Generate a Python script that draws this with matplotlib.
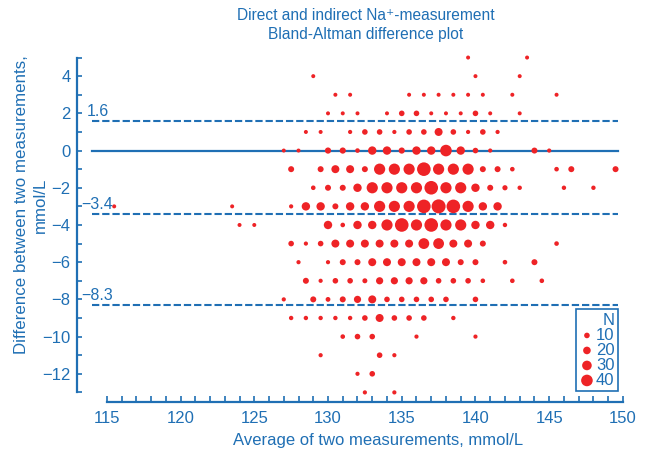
import numpy as np
import matplotlib.pyplot as plt

plt.rcParams['font.family'] = ['Liberation Sans', 'DejaVu Sans']

blue = '#1f6fb4'
red = '#ee2326'

# differences (mmol/L), one entry per row of bubbles
row_diffs = [5, 4, 3, 2, 1, 0, -1, -2, -3, -4, -5, -6, -7, -8, -9, -10, -11, -12, -13]

# averages of the two measurements in each row
row_avgs = [
    [139.5, 143.5],
    [129, 140, 143],
    [130.5, 131.5, 135.5, 136.5, 137.5, 138.5, 139.5, 140.5, 142.5, 145.5],
    [130, 131, 132, 134, 135, 136, 137, 138, 139, 140, 141, 143],
    [128.5, 129.5, 131.5, 132.5, 133.5, 134.5, 135.5, 136.5, 137.5, 138.5, 139.5, 140.5, 141.5],
    [127, 128, 130, 131, 132, 133, 134, 135, 136, 137, 138, 139, 140, 141, 144, 145],
    [127.5, 129.5, 130.5, 131.5, 132.5, 133.5, 134.5, 135.5, 136.5, 137.5, 138.5, 139.5,
     140.5, 141.5, 142.5, 145.5, 146.5, 149.5],
    [129, 130, 131, 132, 133, 134, 135, 136, 137, 138, 139, 140, 141, 142, 143, 146, 148],
    [115.5, 123.5, 127.5, 128.5, 129.5, 130.5, 131.5, 132.5, 133.5, 134.5, 135.5, 136.5,
     137.5, 138.5, 139.5, 140.5, 141.5],
    [124, 125, 130, 131, 132, 133, 134, 135, 136, 137, 138, 139, 140, 141, 142],
    [127.5, 128.5, 129.5, 130.5, 131.5, 132.5, 133.5, 134.5, 135.5, 136.5, 137.5, 138.5,
     139.5, 140.5, 145.5],
    [128, 130, 131, 132, 133, 134, 135, 136, 137, 138, 139, 140, 142, 144],
    [128.5, 129.5, 130.5, 131.5, 132.5, 133.5, 134.5, 135.5, 136.5, 137.5, 138.5, 139.5,
     140.5, 142.5, 144.5],
    [127, 129, 130, 131, 132, 133, 134, 135, 136, 137, 138, 140],
    [127.5, 128.5, 129.5, 130.5, 131.5, 132.5, 133.5, 134.5, 135.5, 136.5, 138.5],
    [131, 132, 133, 136, 140],
    [129.5, 133.5, 134.5],
    [132, 133],
    [132.5, 134.5],
]

# number of samples at each point
row_counts = [
    [2, 2],
    [2, 2, 2],
    [2, 2, 2, 2, 2, 2, 2, 2, 2, 2],
    [2, 2, 2, 2, 10, 10, 2, 2, 2, 10, 2, 2],
    [2, 2, 3, 10, 10, 3, 10, 10, 22, 10, 3, 10, 3],
    [2, 2, 13, 13, 5, 24, 24, 13, 24, 24, 40, 24, 10, 3, 12, 3],
    [12, 12, 22, 22, 12, 38, 38, 38, 50, 38, 38, 38, 12, 12, 5, 5, 12, 12],
    [5, 12, 12, 24, 38, 38, 38, 38, 50, 38, 38, 24, 12, 8, 4, 4, 4],
    [2, 2, 3, 24, 24, 12, 24, 24, 38, 38, 38, 50, 52, 50, 38, 24, 24],
    [2, 2, 24, 5, 24, 24, 38, 50, 38, 50, 38, 38, 24, 24, 4],
    [10, 3, 10, 22, 22, 22, 22, 22, 22, 36, 36, 22, 22, 12, 5],
    [3, 3, 12, 12, 22, 22, 22, 22, 22, 22, 12, 12, 5, 12],
    [12, 3, 10, 10, 7, 18, 18, 18, 18, 10, 10, 10, 5, 5, 5],
    [3, 12, 6, 12, 18, 22, 10, 10, 10, 10, 10, 10],
    [4, 4, 4, 4, 4, 10, 22, 10, 10, 10, 4],
    [5, 10, 10, 3, 3],
    [3, 10, 3],
    [3, 10],
    [3, 3],
]

limit_values = [1.6, -3.4, -8.3]
limit_labels = ['1.6', '\u22123.4', '\u22128.3']
legend_counts = [10, 20, 30, 40]

dpi = 100


def marker_area(n):
    d_px = 3.6 + 0.2 * n
    return (d_px * 72 / dpi) ** 2


avg = np.concatenate([np.array(a, dtype=float) for a in row_avgs])
diff = np.concatenate([np.full(len(a), d, dtype=float) for a, d in zip(row_avgs, row_diffs)])
count = np.concatenate([np.array(c, dtype=float) for c in row_counts])

fig = plt.figure(figsize=(6.46, 4.51), dpi=dpi)
ax = fig.add_axes([0.1197, 0.1093, 0.8674, 0.7796])
ax.set_xlim(113, 151)
ax.set_ylim(-13.5, 5.4)

# zero line and limits of agreement
ax.plot([114, 149.7], [0, 0], color=blue, lw=1.6, zorder=1)
for v, lab in zip(limit_values, limit_labels):
    ax.plot([114, 149.7], [v, v], color=blue, lw=1.5, ls=(0, (3.5, 1.4)), zorder=1)
    xt = 113.65 if v > 0 else 113.3
    ax.text(xt, v + 0.12, lab, color=blue, fontsize=11.5, ha='left', va='bottom')

ax.scatter(avg, diff, s=marker_area(count), color=red, edgecolors='none', zorder=2)

for side in ['top', 'right']:
    ax.spines[side].set_visible(False)
for side in ['left', 'bottom']:
    ax.spines[side].set_color(blue)
    ax.spines[side].set_linewidth(1.6)
ax.spines['left'].set_bounds(-13, 5)
ax.spines['bottom'].set_bounds(115, 150)

ax.set_xticks(np.arange(115, 151, 5))
ax.set_xticks(np.arange(115, 151, 1), minor=True)
ax.set_yticks(np.arange(-12, 5, 2))
ax.set_yticks(np.arange(-13, 6, 1), minor=True)
ax.set_yticklabels([str(v).replace('-', '\u2212') for v in range(-12, 5, 2)])
ax.tick_params(axis='x', which='both', direction='in', length=4.5, width=1.2,
               color=blue, labelcolor=blue, labelsize=12, pad=7)
ax.tick_params(axis='y', which='both', direction='in', length=3.6, width=1.2,
               color=blue, labelcolor=blue, labelsize=12, pad=5)

handles = [ax.scatter([], [], s=marker_area(n), color=red, edgecolors='none') for n in legend_counts]
leg = ax.legend(handles, [str(n) for n in legend_counts], title='N', loc='lower right',
                bbox_to_anchor=(0.965, 0.03), borderaxespad=0, fancybox=False,
                edgecolor=blue, framealpha=1, handletextpad=0.1, labelspacing=0.0,
                borderpad=0.2, handlelength=0.9, alignment='right',
                fontsize=12, title_fontsize=12)
leg.get_frame().set_linewidth(1.2)
leg.get_title().set_color(blue)
for t in leg.get_texts():
    t.set_color(blue)

fig.text(366 / 646, 1 - 16 / 451, 'Direct and indirect Na\u207a-measurement',
         color=blue, fontsize=11.2, ha='center', va='center')
fig.text(366 / 646, 1 - 35 / 451, 'Bland-Altman difference plot',
         color=blue, fontsize=11.2, ha='center', va='center')
fig.text(378 / 646, 1 - 440 / 451, 'Average of two measurements, mmol/L',
         color=blue, fontsize=12, ha='center', va='center')
fig.text(22 / 646, 1 - 205 / 451, 'Difference between two measurements,',
         color=blue, fontsize=12.2, ha='center', va='center', rotation=90)
fig.text(40 / 646, 1 - 205 / 451, 'mmol/L',
         color=blue, fontsize=12.2, ha='center', va='center', rotation=90)

fig.savefig('out.png', dpi=dpi)
